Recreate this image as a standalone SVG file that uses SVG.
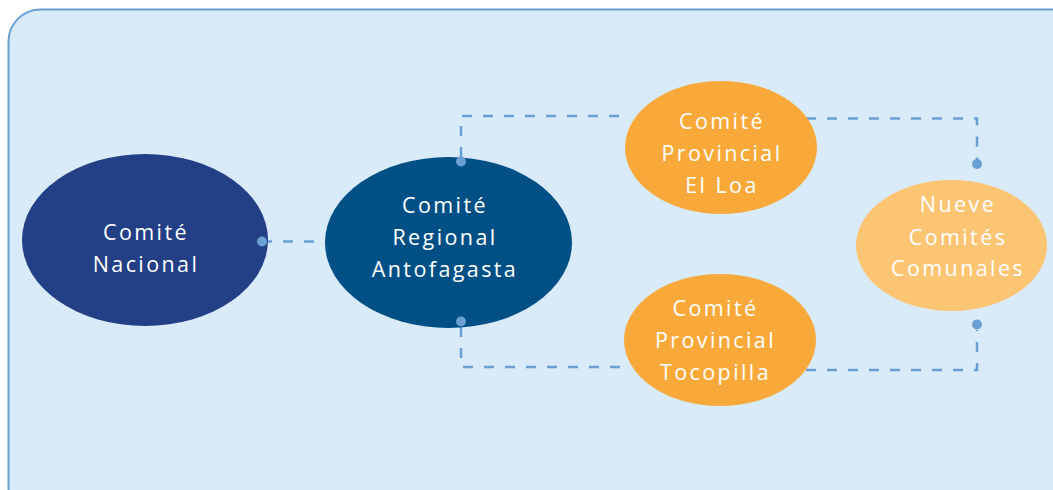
<svg xmlns="http://www.w3.org/2000/svg" width="1053" height="490" viewBox="0 0 1053 490">
<style>
.t{font-family:"Open Sans","Liberation Sans",sans-serif;font-size:21.5px;letter-spacing:2.4px;fill:#ffffff;text-anchor:middle}
.c{fill:none;stroke:#6a9fd4;stroke-width:2.5;stroke-dasharray:10 11}
.d{fill:#6a9fd4}
</style>
<rect x="8.5" y="9.5" width="1080" height="510" rx="32" fill="#d9eaf8" stroke="#6a9fd4" stroke-width="2"/>
<g id="connectors">
<path class="c" d="M262 241.5H332"/>
<path class="c" d="M461 157V116H630"/>
<path class="c" d="M806 118.5H977V160"/>
<path class="c" d="M461 327V367H630"/>
<path class="c" d="M806 370H977V330"/>
</g>
<g id="nacional">
<ellipse cx="145" cy="240" rx="123" ry="86" fill="#233f86"/>
<text class="t" x="146" y="240">Comité</text>
<text class="t" x="146" y="272">Nacional</text>
</g>
<g id="regional">
<ellipse cx="448.5" cy="242.5" rx="123.5" ry="85.5" fill="#005086"/>
<text class="t" x="445" y="213">Comité</text>
<text class="t" x="445" y="245">Regional</text>
<text class="t" x="445" y="277">Antofagasta</text>
</g>
<g id="elloa">
<ellipse cx="721" cy="147.5" rx="96" ry="66.5" fill="#f8a93a"/>
<text class="t" x="722" y="129">Comité</text>
<text class="t" x="722" y="161">Provincial</text>
<text class="t" x="722" y="193">El Loa</text>
</g>
<g id="tocopilla">
<ellipse cx="720" cy="340" rx="96" ry="66" fill="#f8a93a"/>
<text class="t" x="715.5" y="316">Comité</text>
<text class="t" x="715.5" y="348">Provincial</text>
<text class="t" x="715.5" y="380">Tocopilla</text>
</g>
<g id="comunales">
<ellipse cx="951.5" cy="245.5" rx="95.5" ry="65.5" fill="#fcc574"/>
<text class="t" x="958" y="212">Nueve</text>
<text class="t" x="958" y="245">Comités</text>
<text class="t" x="958" y="276">Comunales</text>
</g>
<g id="dots">
<circle class="d" cx="262" cy="241.5" r="5"/>
<circle class="d" cx="461" cy="161.5" r="5"/>
<circle class="d" cx="461" cy="321.5" r="5"/>
<circle class="d" cx="977" cy="164" r="5"/>
<circle class="d" cx="977" cy="324.5" r="5"/>
</g>
</svg>
